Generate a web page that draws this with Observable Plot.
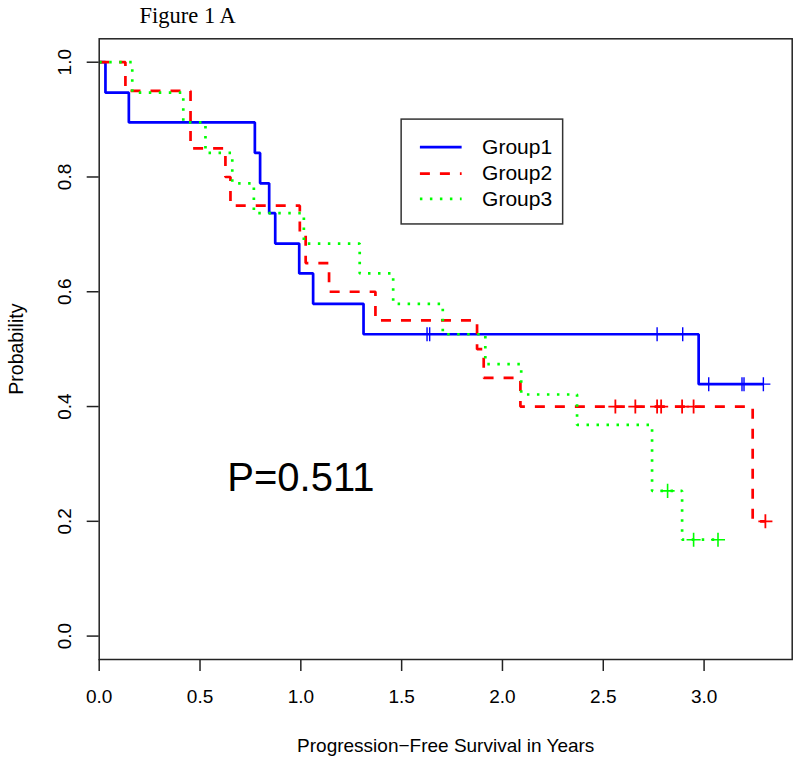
<!DOCTYPE html>
<html><head><meta charset="utf-8">
<script src="https://cdn.jsdelivr.net/npm/d3@7"></script>
<script src="https://cdn.jsdelivr.net/npm/@observablehq/plot@0.6"></script>
<style>body{margin:0;background:#fff}</style>
</head><body><div id="chart"></div>
<script>
// ---- data ----
const groups = ["Group1", "Group2", "Group3"];
const colors = ["#0000ff", "#ff0000", "#00ff00"];

const g1Time = [0, 0.031, 0.147, 0.772, 0.798, 0.843, 0.873, 0.992, 1.061, 1.311, 2.973, 3.294];
const g1Surv = [1, 0.947, 0.895, 0.842, 0.789, 0.737, 0.684, 0.632, 0.579, 0.526, 0.439, 0.439];
const g1CensorTime = [1.626, 1.639, 2.767, 2.894, 3.023, 3.188, 3.198, 3.294];
const g1CensorSurv = [0.526, 0.526, 0.526, 0.526, 0.439, 0.439, 0.439, 0.439];

const g2Time = [0, 0.130, 0.453, 0.626, 0.651, 0.995, 1.024, 1.140, 1.370, 1.874, 1.907, 2.089, 3.241, 3.304];
const g2Surv = [1, 0.95, 0.85, 0.80, 0.75, 0.70, 0.65, 0.60, 0.55, 0.50, 0.45, 0.40, 0.20, 0.20];
const g2CensorTime = [2.560, 2.659, 2.767, 2.787, 2.891, 2.948, 3.304];
const g2CensorSurv = [0.40, 0.40, 0.40, 0.40, 0.40, 0.40, 0.20];

const g3Time = [0, 0.164, 0.417, 0.527, 0.660, 0.767, 1.015, 1.292, 1.458, 1.704, 1.915, 2.093, 2.370, 2.742, 2.891, 3.069];
const g3Surv = [1, 0.947, 0.895, 0.842, 0.789, 0.737, 0.684, 0.632, 0.579, 0.526, 0.474, 0.421, 0.368, 0.253, 0.168, 0.168];
const g3CensorTime = [2.819, 2.948, 3.069];
const g3CensorSurv = [0.253, 0.168, 0.168];

const xTicks = [0, 0.5, 1.0, 1.5, 2.0, 2.5, 3.0];
const yTicks = [0, 0.2, 0.4, 0.6, 0.8, 1.0];
const pValueLabel = "P=0.511";
const titleText = "Figure 1 A";
const xLabel = "Progression\u2212Free Survival in Years";
const yLabel = "Probability";

// ---- build tables ----
const zip = (t, s) => t.map((d, i) => ({t: d, s: s[i]}));
const curves = [zip(g1Time, g1Surv), zip(g2Time, g2Surv), zip(g3Time, g3Surv)];
const censors = [zip(g1CensorTime, g1CensorSurv), zip(g2CensorTime, g2CensorSurv), zip(g3CensorTime, g3CensorSurv)];
const dashes = [null, "10,10", "2.5,7.5"];
const censorWidth = [1.4, 1.8, 1.6];

const sans = "'Liberation Sans', Arial, Helvetica, sans-serif";
const serif = "'Liberation Serif', 'Times New Roman', serif";

// legend layout (R legend anchored at x=1.5, y=0.9)
const legRows = [0.852, 0.806, 0.762];

const marks = [];
// lines + censor marks in drawing order
curves.forEach((c, i) => {
  marks.push(Plot.line(c, {x: "t", y: "s", curve: "step-after", stroke: colors[i],
    strokeWidth: 2.7, strokeDasharray: dashes[i], strokeLinecap: "butt", strokeLinejoin: "miter"}));
  marks.push(Plot.dot(censors[i], {x: "t", y: "s", symbol: "plus", r: 4.6, stroke: colors[i], strokeWidth: censorWidth[i]}));
});

// legend
marks.push(Plot.rect([0], {x1: () => 1.5, x2: () => 2.301, y1: () => 0.9, y2: () => 0.7173,
  fill: "white", fillOpacity: 0, stroke: "#333", strokeWidth: 1.5}));
groups.forEach((g, i) => {
  marks.push(Plot.ruleY([legRows[i]], {y: d => d, x1: () => 1.593, x2: () => 1.80, stroke: colors[i],
    strokeWidth: 2.7, strokeDasharray: dashes[i], strokeLinecap: "butt"}));
});
marks.push(Plot.text(groups, {x: () => 1.899, y: (d, i) => legRows[i], text: d => d,
  textAnchor: "start", lineAnchor: "middle", fontSize: 21, fill: "black", fontFamily: sans}));

// P value
marks.push(Plot.text([pValueLabel], {x: () => 1.0, y: () => 0.275, text: d => d, fontSize: 40,
  textAnchor: "middle", lineAnchor: "middle", fill: "black", fontFamily: sans}));

// axes
marks.push(Plot.axisX({ticks: xTicks, tickFormat: d3.format(".1f"), tickSize: 12, tickPadding: 18,
  fontSize: 19, label: null, stroke: "#222", strokeWidth: 1.5, fontFamily: sans, fill: "black"}));
marks.push(Plot.axisY({ticks: yTicks, tickFormat: d3.format(".1f"), tickSize: 12, tickPadding: 16,
  tickRotate: -90, textAnchor: "middle", lineAnchor: "bottom", fontSize: 19, label: null,
  stroke: "#222", strokeWidth: 1.5, fontFamily: sans, fill: "black"}));
marks.push(Plot.frame({stroke: "#222", strokeWidth: 1.5}));

// titles
marks.push(Plot.text([xLabel], {frameAnchor: "bottom", dy: 86, text: d => d, fontSize: 19,
  lineAnchor: "middle", textAnchor: "middle", fontFamily: sans, fill: "black"}));
marks.push(Plot.text([yLabel], {frameAnchor: "left", dx: -82.5, rotate: -90, text: d => d, fontSize: 19.5,
  lineAnchor: "middle", textAnchor: "middle", fontFamily: sans, fill: "black"}));
marks.push(Plot.text([titleText], {frameAnchor: "top-left", dx: 88.5, dy: -15.5, text: d => d, fontSize: 22.5,
  lineAnchor: "bottom", textAnchor: "middle", fontFamily: serif, fill: "black"}));

const chart = Plot.plot({
  width: 800,
  height: 762,
  marginLeft: 98.7,
  marginRight: 8.3,
  marginTop: 38.3,
  marginBottom: 103,
  style: {background: "white", fontFamily: sans, overflow: "visible"},
  x: {domain: [0, 3.437]},
  y: {domain: [-0.0408, 1.0408]},
  marks
});
document.getElementById("chart").appendChild(chart);
</script>
</body></html>
